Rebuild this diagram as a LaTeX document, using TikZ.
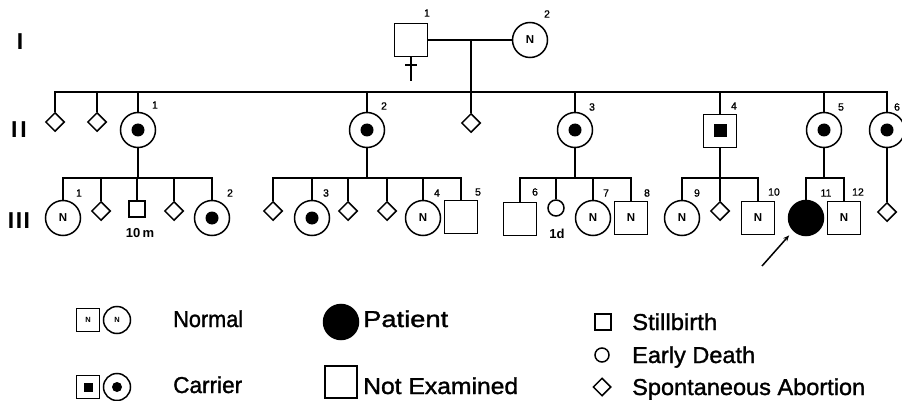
\documentclass[tikz,border=0pt]{standalone}
\usepackage{fontspec}
\setmainfont{Liberation Sans}
\newfontfamily\legfont{Liberation Sans}[FakeBold=1.3]
\newfontfamily\numfont{Liberation Sans}[FakeBold=1]
\usetikzlibrary{shapes.geometric,arrows.meta}
\begin{document}
\begin{tikzpicture}[x=1pt,y=-1pt,
  ln/.style={line width=1.5pt},
  sym/.style={draw,line width=1.5pt,inner sep=0pt,font=\bfseries\fontsize{11.5}{11.5}\selectfont},
  sqr/.style={sym,rectangle,minimum size=33pt},
  cir/.style={sym,circle,minimum size=35pt},
  dia/.style={sym,diamond,minimum size=19pt},
  carrc/.style={cir,path picture={\fill (path picture bounding box.center) circle (6.5pt);}},
  carrs/.style={sqr,path picture={\fill ([shift={(-6.5pt,-6.5pt)}]path picture bounding box.center) rectangle ++(13pt,13pt);}},
  num/.style={font=\numfont\fontsize{10.5}{10.5}\selectfont,inner sep=0pt},
  age/.style={font=\bfseries\fontsize{13}{13}\selectfont,inner sep=0pt},
  gen/.style={font=\bfseries\fontsize{23}{23}\selectfont,inner sep=0pt},
  leg/.style={font=\legfont\fontsize{23}{23}\selectfont,anchor=base west,inner sep=0pt},
  lsym/.style={draw,line width=1.5pt,inner sep=0pt,font=\bfseries\fontsize{7.5}{7.5}\selectfont},
]
\useasboundingbox (0,0) rectangle (902,401);
% generation labels
\node[gen] (gI) at (20,42) {I};
\node[gen] (gII) at (19,130) {I\hspace{3pt}I};
\node[gen] (gIII) at (19,221) {I\hspace{1.5pt}I\hspace{1.5pt}I};
% generation I
\node[sqr] (I1) at (411,40) {};
\node[cir] (I2) at (530,40) {N};
\node[num] (nI1) at (427,13) {1};
\node[num] (nI2) at (547,14) {2};
\draw[ln] (I1.south) -- ++(0,24);
\draw[ln] ([xshift=-6pt,yshift=-8pt]I1.south) -- ++(12,0);
\draw[ln] (I1) -- (I2);
\coordinate (m1) at (471,40);
\coordinate (s0) at (471,92);
\draw[ln] (m1) -- (s0);
% generation II
\node[dia] (d1) at (55,122) {};
\node[dia] (d2) at (97,122) {};
\node[carrc] (II1) at (138,130) {};
\node[carrc] (II2) at (367,130) {};
\node[dia] (d3) at (471,123) {};
\node[carrc] (II3) at (575,130) {};
\node[carrs] (II4) at (720,131) {};
\node[carrc] (II5) at (824,130) {};
\node[carrc] (II6) at (887,130) {};
\node[dia] (d16) at (887,212) {};
\node[num] (nII1) at (155,105) {1};
\node[num] (nII2) at (384,106) {2};
\node[num] (nII3) at (592,107) {3};
\node[num] (nII4) at (734,106) {4};
\node[num] (nII5) at (841,107) {5};
\node[num] (nII6) at (897,107) {6};
\draw[ln] (d1.north) |- (s0) -| (II6.north);
\foreach \n in {d2,II1,II2,d3,II3,II4,II5} \draw[ln] (\n.north) -- (\n.north |- s0);
\draw[ln] (II6) -- (d16);
% generation III, family of II-1
\node[cir] (III1) at (63,218) {N};
\node[dia] (d4) at (101,211) {};
\node[sqr,minimum size=16pt] (sb1) at (137,209) {};
\node[dia] (d5) at (174,211) {};
\node[carrc] (III2) at (212,218) {};
\node[age] (a1) at (140,233) {10\,m};
\coordinate (f1) at (138,178);
\draw[ln] (II1) -- (f1);
\draw[ln] (III1.north) |- (f1) -| (III2.north);
\foreach \n in {d4,sb1,d5} \draw[ln] (\n.north) -- (\n.north |- f1);
% family of II-2
\node[dia] (d6) at (273,211) {};
\node[carrc] (III3) at (312,218) {};
\node[dia] (d7) at (348,211) {};
\node[dia] (d8) at (387,211) {};
\node[cir] (III4) at (423,218) {N};
\node[sqr] (III5) at (461,217) {};
\coordinate (f2) at (367,178);
\draw[ln] (II2) -- (f2);
\draw[ln] (d6.north) |- (f2) -| (III5.north);
\foreach \n in {III3,d7,d8,III4} \draw[ln] (\n.north) -- (\n.north |- f2);
% family of II-3
\node[sqr] (III6) at (520,219) {};
\node[cir,minimum size=16pt] (ed1) at (556,208) {};
\node[cir] (III7) at (593,218) {N};
\node[sqr] (III8) at (631,218) {N};
\node[age] (a2) at (557,234) {1d};
\coordinate (f3) at (575,178);
\draw[ln] (II3) -- (f3);
\draw[ln] (III6.north) |- (f3) -| (III8.north);
\foreach \n in {ed1,III7} \draw[ln] (\n.north) -- (\n.north |- f3);
% family of II-4
\node[cir] (III9) at (682,218) {N};
\node[dia] (d9) at (720,211) {};
\node[sqr] (III10) at (758,218) {N};
\coordinate (f4) at (720,178);
\draw[ln] (II4) -- (f4);
\draw[ln] (III9.north) |- (f4) -| (III10.north);
\draw[ln] (d9.north) -- (d9.north |- f4);
% family of II-5
\node[cir,fill=black] (III11) at (806,218) {};
\node[sqr] (III12) at (844,218) {N};
\coordinate (f5) at (824,178);
\draw[ln] (II5) -- (f5);
\draw[ln] (III11.north) |- (f5) -| (III12.north);
% numbers gen III
\node[num] (n1) at (79,193) {1};
\node[num] (n2) at (230,193) {2};
\node[num] (n3) at (326,193) {3};
\node[num] (n4) at (437,193) {4};
\node[num] (n5) at (478,192) {5};
\node[num] (n6) at (535,192) {6};
\node[num] (n7) at (606,193) {7};
\node[num] (n8) at (647,193) {8};
\node[num] (n9) at (697,193) {9};
\node[num] (n10) at (774,192) {10};
\node[num] (n11) at (826,193) {11};
\node[num] (n12) at (858,192) {12};
% arrow to patient
\coordinate (arr) at (762,266);
\draw[line width=1.5pt,-{Stealth[length=6pt,width=5pt]},shorten >=6pt] (arr) -- (III11.225);
% legend
\node[lsym,rectangle,minimum size=23pt] (LN1) at (88,320) {N};
\node[lsym,circle,minimum size=27pt] (LN2) at (117,320) {N};
\node[lsym,rectangle,minimum size=23pt,path picture={\fill ([shift={(-4.5pt,-4.5pt)}]path picture bounding box.center) rectangle ++(9pt,9pt);}] (LC1) at (88,387) {};
\node[lsym,circle,minimum size=27pt,path picture={\fill (path picture bounding box.center) circle (5pt);}] (LC2) at (117,387) {};
\node[lsym,circle,minimum size=35pt,fill=black] (LP) at (341,322) {};
\node[lsym,rectangle,minimum size=32pt] (LX) at (341,382) {};
\node[lsym,rectangle,minimum size=16pt] (LS) at (603,322) {};
\node[lsym,circle,minimum size=14pt] (LE) at (602,355) {};
\node[lsym,diamond,minimum size=18pt] (LA) at (602,387) {};
\node[leg] (tN) at (173,327) {\resizebox{70pt}{\height}{Normal}};
\node[leg] (tC) at (173,393) {\resizebox{69pt}{\height}{Carrier}};
\node[leg] (tP) at (363,327) {\resizebox{85pt}{\height}{Patient}};
\node[leg] (tX) at (363,394) {\resizebox{155pt}{\height}{Not Examined}};
\node[leg] (tS) at (632,330) {\resizebox{85pt}{\height}{Stillbirth}};
\node[leg] (tE) at (632,363) {\resizebox{123pt}{\height}{Early Death}};
\node[leg] (tA) at (632,395) {\resizebox{233pt}{\height}{Spontaneous Abortion}};
\end{tikzpicture}
\end{document}
